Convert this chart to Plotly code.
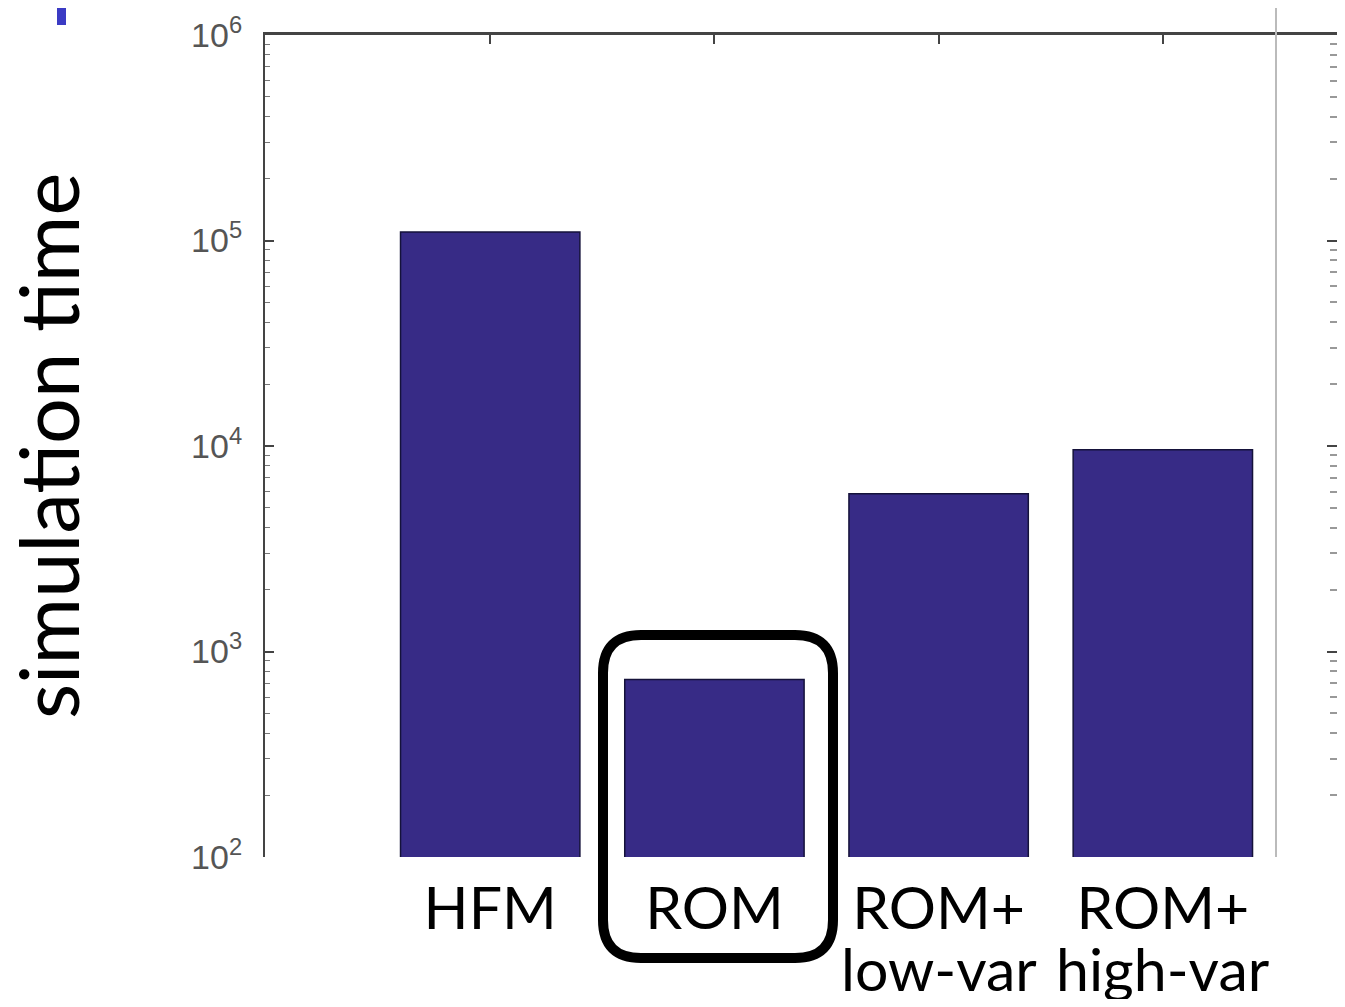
import plotly.graph_objects as go

categories = ["HFM", "ROM", "ROM+", "ROM+"]
second_line = ["", "", "low-var", "high-var"]
sim_time = [1.1e5, 7.3e2, 5.85e3, 9.6e3]
ytick_vals = [1e2, 1e3, 1e4, 1e5, 1e6]
ytick_text = ["10<sup>2</sup>", "10<sup>3</sup>", "10<sup>4</sup>", "10<sup>5</sup>", "10<sup>6</sup>"]

# the page body has an 8px margin, so the figure starts at page (8, 8)
OFF = 8
W, H = 1345 - 2 * OFF, 1007 - 2 * OFF
PLOT_L, PLOT_R, PLOT_T, PLOT_B = 265, 1337, 35, 857   # page pixels
ML, MR, MT, MB = PLOT_L - OFF, W + OFF - PLOT_R, PLOT_T - OFF, H + OFF - PLOT_B
PW, PH = W - ML - MR, H - MT - MB

def px(x):
    return (x - PLOT_L) / PW

def py(y):
    return (PLOT_B - y) / PH

x_idx = list(range(len(categories)))
# category step is 224 px; plot starts at page x 265, HFM centre at 490
xr = [0 - (490 - PLOT_L) / 224.0, 3 + (PLOT_R - 1163) / 224.0]

fig = go.Figure()
fig.add_trace(go.Bar(
    x=x_idx, y=sim_time, width=0.8,
    marker=dict(color="#372B86", line=dict(color="#15123a", width=1.5)),
    showlegend=False, hoverinfo="skip",
))
# invisible trace for the top frame axis and right-hand ghost log axis
fig.add_trace(go.Scatter(x=[0], y=[1e3], xaxis="x2", yaxis="y2", mode="markers",
                         marker=dict(opacity=0), showlegend=False, hoverinfo="skip"))

fig.update_layout(
    width=W, height=H,
    margin=dict(l=ML, r=MR, t=MT, b=MB, autoexpand=False),
    paper_bgcolor="white", plot_bgcolor="white",
    bargap=0.2,
    xaxis=dict(range=xr, tickvals=x_idx, ticktext=categories,
               showgrid=False, zeroline=False, showline=False, ticks="",
               automargin=False,
               tickfont=dict(family="Lato", size=59, color="black"), ticklabelstandoff=12),
    xaxis2=dict(range=xr, overlaying="x", side="top", tickvals=x_idx, anchor="y2",
                showticklabels=False, showgrid=False, zeroline=False, automargin=False,
                showline=True, linecolor="#444", linewidth=3,
                ticks="inside", ticklen=9, tickwidth=2, tickcolor="#444"),
    yaxis=dict(type="log", range=[2, 6], tickvals=ytick_vals, ticktext=ytick_text,
               showgrid=False, zeroline=False, showline=True, linecolor="#444", linewidth=2,
               automargin=False,
               ticks="inside", ticklen=9, tickwidth=2, tickcolor="#444",
               minor=dict(ticks="inside", ticklen=5, tickwidth=1, tickcolor="#777", dtick="D1"),
               tickfont=dict(family="Liberation Sans", size=34, color="#555"),
               ticklabelstandoff=14),
    yaxis2=dict(type="log", range=[2, 6], overlaying="y", side="right", anchor="x2",
                showticklabels=False, showgrid=False, zeroline=False, showline=False,
                automargin=False, dtick=1,
                ticks="inside", ticklen=10, tickwidth=2, tickcolor="#444",
                minor=dict(ticks="inside", ticklen=7, tickwidth=2, tickcolor="#999", dtick="D1")),
)

annotations = []
for i, t in enumerate(second_line):
    if t:
        annotations.append(dict(x=i, y=py(931), xref="x", yref="paper", text=t,
                                showarrow=False, xanchor="center", yanchor="top",
                                font=dict(family="Lato", size=59, color="black")))
annotations.append(dict(x=px(47), y=py(446), xref="paper", yref="paper",
                        text="simulation time", textangle=-90, showarrow=False,
                        xanchor="center", yanchor="middle",
                        font=dict(family="Lato", size=81, color="black")))
fig.update_layout(annotations=annotations)

# rounded box around ROM (page pixels of the stroke centre line)
x0, x1, y0, y1, r = 603, 833, 635, 958, 38
def P(x, y):
    return f"{px(x):.5f},{py(y):.5f}"
path = (f"M {P(x0 + r, y0)} L {P(x1 - r, y0)} Q {P(x1, y0)} {P(x1, y0 + r)} "
        f"L {P(x1, y1 - r)} Q {P(x1, y1)} {P(x1 - r, y1)} "
        f"L {P(x0 + r, y1)} Q {P(x0, y1)} {P(x0, y1 - r)} "
        f"L {P(x0, y0 + r)} Q {P(x0, y0)} {P(x0 + r, y0)} Z")
shapes = [
    dict(type="path", path=path, xref="paper", yref="paper",
         line=dict(color="black", width=10)),
    dict(type="line", xref="paper", yref="paper", x0=px(1276), x1=px(1276),
         y0=0, y1=py(8), line=dict(color="#bbb", width=2)),
    dict(type="rect", xref="paper", yref="paper", x0=px(57), x1=px(66),
         y0=py(25), y1=py(OFF), fillcolor="#3b3bc4", line=dict(width=0)),
]
fig.update_layout(shapes=shapes)

fig.write_html("out.html")
